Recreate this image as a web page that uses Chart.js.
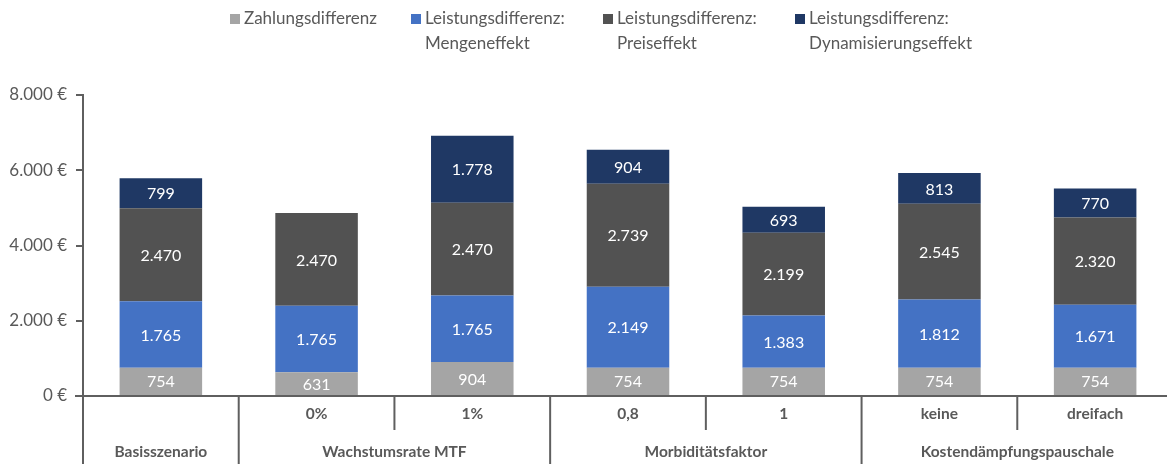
<!DOCTYPE html>
<html>
<head>
<meta charset="utf-8">
<script src="https://cdn.jsdelivr.net/npm/chart.js@4/dist/chart.umd.min.js"></script>
<style>
  html, body { margin: 0; padding: 0; background: #fff; }
  #wrap { width: 1167px; height: 464px; position: relative; overflow: hidden; }
</style>
</head>
<body>
<div id="wrap"><canvas id="chart" width="1173" height="464"></canvas></div>
<script>
// categories (inner level) and groups (outer level)
const categories = ['', '0%', '1%', '0,8', '1', 'keine', 'dreifach'];
const groups = [
    { label: 'Basisszenario', from: 0, to: 0 },
    { label: 'Wachstumsrate MTF', from: 1, to: 2 },
    { label: 'Morbiditätsfaktor', from: 3, to: 4 },
    { label: 'Kostendämpfungspauschale', from: 5, to: 6 }
];

// series values
const zahlung = [754, 631, 904, 754, 754, 754, 754];
const menge = [1765, 1765, 1765, 2149, 1383, 1812, 1671];
const preis = [2470, 2470, 2470, 2739, 2199, 2545, 2320];
const dynamik = [799, 0, 1778, 904, 693, 813, 770];

const seriesNames = [
    ['Zahlungsdifferenz'],
    ['Leistungsdifferenz:', 'Mengeneffekt'],
    ['Leistungsdifferenz:', 'Preiseffekt'],
    ['Leistungsdifferenz:', 'Dynamisierungseffekt']
];
const seriesColors = ['#A5A5A5', '#4472C4', '#525252', '#1F3864'];

// y axis ticks
const yTicks = [0, 2000, 4000, 6000, 8000];

const FONT = 'Lato, "Open Sans", sans-serif';
const TEXT = '#595959';
const AXIS = '#5f5f5f';

function fmt(v) {
    return v.toString().replace(/\B(?=(\d{3})+(?!\d))/g, '.');
}

// white value labels inside the segments
const valueLabels = {
    id: 'valueLabels',
    afterDatasetsDraw(chart) {
        const c = chart.ctx;
        c.save();
        c.font = '16px ' + FONT;
        c.fillStyle = '#ffffff';
        c.textAlign = 'center';
        c.textBaseline = 'middle';
        chart.data.datasets.forEach((ds, i) => {
            chart.getDatasetMeta(i).data.forEach((bar, j) => {
                const v = ds.data[j];
                if (!v) return;
                c.fillText(fmt(v), bar.x, (bar.y + bar.base) / 2 + 1);
            });
        });
        c.restore();
    }
};

// two-level category axis + legend
const categoryAxis = {
    id: 'categoryAxis',
    afterDraw(chart) {
        const c = chart.ctx;
        const x = chart.scales.x;
        const area = chart.chartArea;
        const bottom = area.bottom;
        const step = x.getPixelForValue(1) - x.getPixelForValue(0);
        c.save();
        c.strokeStyle = AXIS;
        c.lineWidth = 2;

        // separators
        for (let i = 0; i < categories.length; i++) {
            const left = x.getPixelForValue(i) - step / 2;
            const isGroupStart = groups.some(g => g.from === i);
            c.beginPath();
            c.moveTo(left, bottom);
            c.lineTo(left, isGroupStart ? chart.height : bottom + 34);
            c.stroke();
        }
        // zero tick continues the x axis to the left
        c.beginPath();
        c.moveTo(area.left - 8, bottom);
        c.lineTo(chart.width, bottom);
        c.stroke();

        c.fillStyle = TEXT;
        c.font = 'bold 15.5px ' + FONT;
        c.textAlign = 'center';
        c.textBaseline = 'middle';
        categories.forEach((lab, i) => {
            if (lab) c.fillText(lab, x.getPixelForValue(i), bottom + 18);
        });
        groups.forEach(g => {
            const cx = (x.getPixelForValue(g.from) + x.getPixelForValue(g.to)) / 2;
            c.fillText(g.label, cx, bottom + 56);
        });

        // legend
        const legendX = [230, 411, 603, 795];
        c.font = '17px ' + FONT;
        c.textAlign = 'left';
        seriesNames.forEach((lines, i) => {
            c.fillStyle = seriesColors[i];
            c.fillRect(legendX[i], 14, 10, 10);
            c.fillStyle = TEXT;
            lines.forEach((t, k) => c.fillText(t, legendX[i] + 14, 19 + k * 25));
        });
        c.restore();
    }
};

const data = [zahlung, menge, preis, dynamik];

new Chart(document.getElementById('chart'), {
    type: 'bar',
    data: {
        labels: categories,
        datasets: data.map((d, i) => ({
            label: seriesNames[i].join(' '),
            data: d,
            backgroundColor: seriesColors[i],
            borderWidth: 0,
            barPercentage: 0.53,
            categoryPercentage: 1
        }))
    },
    options: {
        responsive: false,
        animation: false,
        layout: { padding: { top: 95, left: 0, right: 0, bottom: 0 } },
        plugins: {
            legend: { display: false },
            tooltip: { enabled: false }
        },
        scales: {
            x: {
                stacked: true,
                grid: { display: false },
                border: { display: false },
                ticks: { display: false },
                afterFit: s => { s.height = 68; }
            },
            y: {
                stacked: true,
                min: 0,
                max: 8000,
                afterBuildTicks: s => { s.ticks = yTicks.map(v => ({ value: v })); },
                grid: { drawOnChartArea: false, drawTicks: true, tickLength: 7, color: AXIS, lineWidth: 2 },
                border: { display: true, color: AXIS, width: 2 },
                ticks: {
                    padding: 9,
                    color: TEXT,
                    font: { family: FONT, size: 17 },
                    callback: v => fmt(v) + ' €'
                },
                afterFit: s => { s.width = 83; }
            }
        }
    },
    plugins: [valueLabels, categoryAxis]
});
</script>
</body>
</html>
